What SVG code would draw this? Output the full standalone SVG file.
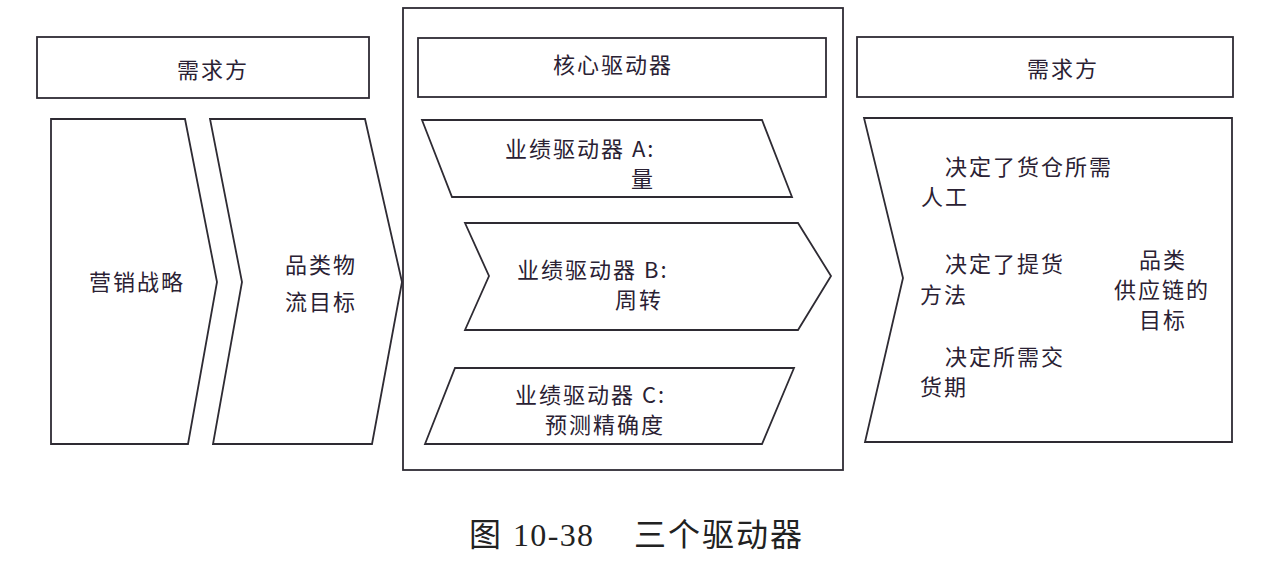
<svg xmlns="http://www.w3.org/2000/svg" width="1280" height="572" viewBox="0 0 1280 572">
<style>
.s{fill:#fff;stroke:#2e2b33;stroke-width:1.8;stroke-linejoin:miter}
.t{font-family:"Noto Sans CJK SC","Liberation Sans",sans-serif;font-size:22px;fill:#2a2133;dominant-baseline:central;letter-spacing:2px}
.m{text-anchor:middle}
.c{font-family:"Liberation Serif","Noto Sans CJK SC",serif;font-size:32px;fill:#222;dominant-baseline:central}
</style>
<rect width="1280" height="572" fill="#fff"/>
<g id="left-header"><rect class="s" x="37" y="37" width="332" height="61"/><text class="t m" x="213" y="68">需求方</text></g>
<g id="marketing"><polygon class="s" points="51,119 185,119 217,282 188,444 51,444"/><text class="t m" x="137" y="280">营销战略</text></g>
<g id="category-goal"><polygon class="s" points="210,119 365,119 402,282 372,444 213,444 242,282"/><text class="t m" x="321" y="263">品类物</text><text class="t m" x="321" y="300">流目标</text></g>
<g id="core"><rect class="s" x="403" y="8" width="440" height="462"/></g>
<g id="core-header"><rect class="s" x="418" y="38" width="408" height="59"/><text class="t m" x="613" y="63">核心驱动器</text></g>
<g id="driver-a"><polygon class="s" points="422,120 762,120 792,197 452,197"/><text class="t" x="505" y="147">业绩驱动器 A:</text><text class="t m" x="643" y="177">量</text></g>
<g id="driver-b"><polygon class="s" points="465,223 798,223 831,276 798,330 465,330 489,276"/><text class="t" x="517" y="268">业绩驱动器 B:</text><text class="t" x="615" y="298">周转</text></g>
<g id="driver-c"><polygon class="s" points="455,368 794,368 762,444 425,444"/><text class="t" x="515" y="393">业绩驱动器 C:</text><text class="t" x="545" y="423">预测精确度</text></g>
<g id="right-header"><rect class="s" x="857" y="37" width="376" height="60"/><text class="t m" x="1063" y="67">需求方</text></g>
<g id="supply-goal"><polygon class="s" points="864,118 1232,118 1232,442 865,442 903,278"/>
<text class="t" x="945" y="165">决定了货仓所需</text><text class="t" x="921" y="195">人工</text>
<text class="t" x="945" y="262">决定了提货</text><text class="t" x="920" y="293">方法</text>
<text class="t" x="945" y="355">决定所需交</text><text class="t" x="920" y="385">货期</text>
<text class="t m" x="1163" y="258">品类</text><text class="t m" x="1162" y="288">供应链的</text><text class="t m" x="1163" y="318">目标</text></g>
<g id="caption"><text class="c" x="469" y="535">图</text><text class="c" x="513" y="535" textLength="80">10-38</text><text class="c" x="634" y="535" letter-spacing="2">三个驱动器</text></g>
</svg>
